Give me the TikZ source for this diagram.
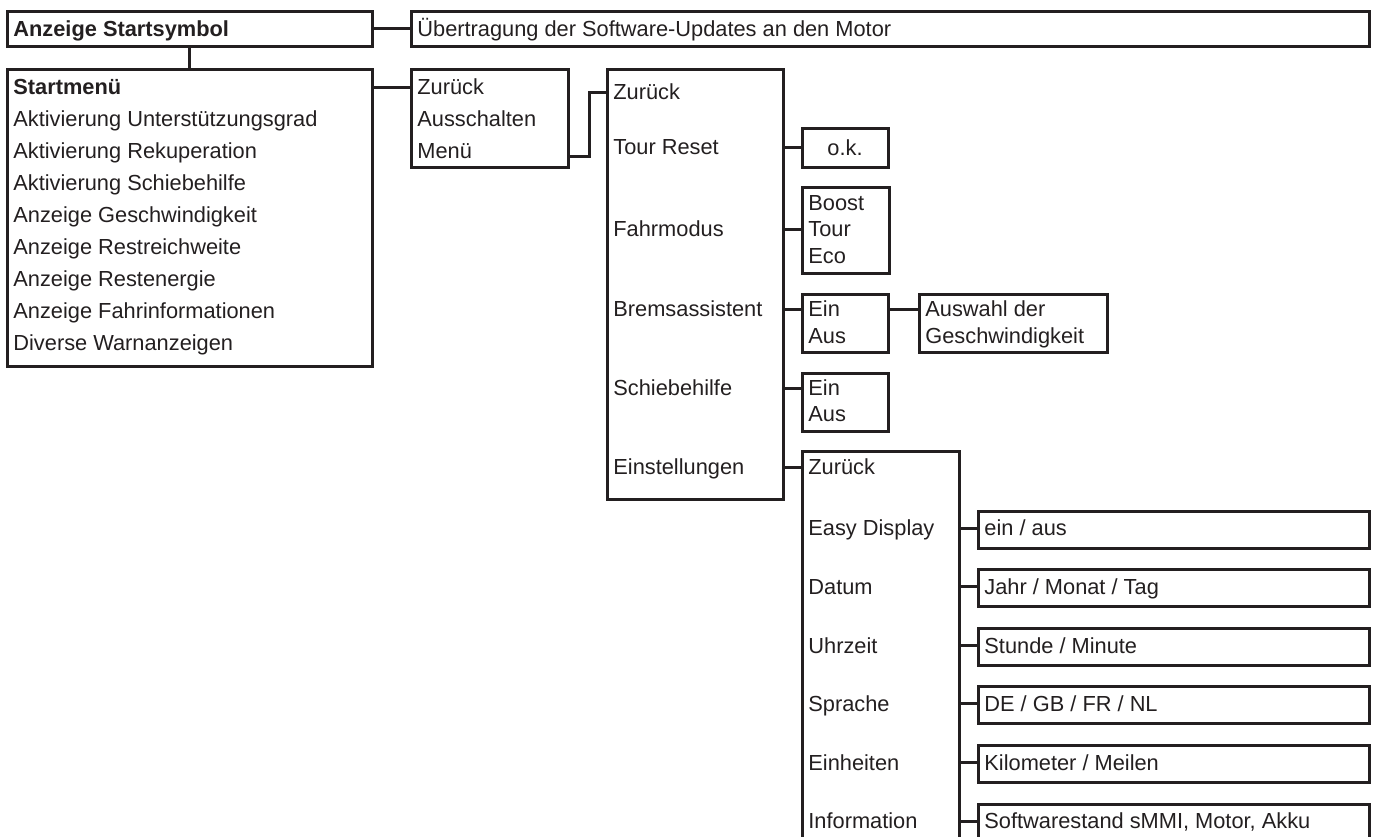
\documentclass[tikz,border=0pt]{standalone}
\usepackage{fontspec}
\setmainfont{Liberation Sans}
\usepackage{tikz}
\usetikzlibrary{fit}
\definecolor{ink}{RGB}{35,31,32}

\begin{document}
\begin{tikzpicture}[x=0.5pt,y=-0.5pt,font=\fontsize{10.9}{13}\selectfont]
  \tikzset{box/.style = {draw=ink,line width=1.5pt,inner sep=0pt}}
  \tikzset{txt/.style = {anchor=west,inner sep=0pt,text=ink,text height=7.8pt,text depth=0pt}}
  \tikzset{link/.style = {draw=ink,line width=1.5pt}}

  \useasboundingbox (0,0) rectangle (1375,836);
  \clip (0,0) rectangle (1375,836);

	\node[box,fit={(7,11) (372,46)}] (startsym) {};
	\node[box,fit={(411,11) (1369,46)}] (update) {};
	\node[box,fit={(7,69) (372,366)}] (startmenu) {};
	\node[box,fit={(411,69) (568,167)}] (quick) {};
	\node[box,fit={(607,69) (783,499)}] (menu) {};
	\node[box,fit={(802,128) (888,167)}] (ok) {};
	\node[box,fit={(802,187) (889,273)}] (mode) {};
	\node[box,fit={(802,294) (888,352)}] (brake) {};
	\node[box,fit={(919,294) (1107,352)}] (speed) {};
	\node[box,fit={(802,373) (888,431)}] (push) {};
	\node[box,fit={(802,451) (959,900)}] (setup) {};
	\foreach \i in {1,...,6}
	  \node[box,fit={(978,{452.4+58.6*\i}) (1369,{489.4+58.6*\i})}] (val\i) {};

	\node[txt] (a1) at (13,28.5) {\textbf{Anzeige Startsymbol}};
	\node[txt] (u1) at (417,28.5) {Übertragung der Software-Updates an den Motor};
	\foreach \t [count=\i] in {\textbf{Startmenü}, Aktivierung Unterstützungsgrad, Aktivierung Rekuperation, Aktivierung Schiebehilfe, Anzeige Geschwindigkeit, Anzeige Restreichweite, Anzeige Restenergie, Anzeige Fahrinformationen, Diverse Warnanzeigen}
	  \node[txt] (sm\i) at (13,{55+32*\i}) {\t};
	\foreach \t [count=\i] in {Zurück, Ausschalten, Menü}
	  \node[txt] (q\i) at (417,{55+32*\i}) {\t};
	\foreach \t/\y [count=\i] in {Zurück/92, Tour Reset/147, Fahrmodus/229, Bremsassistent/309, Schiebehilfe/388, Einstellungen/467}
	  \node[txt] (m\i) at (613,\y) {\t};
	\node[txt,anchor=center] (okt) at (ok.center) {o.k.};
	\foreach \t [count=\i] in {Boost, Tour, Eco}
	  \node[txt] (mode\i) at (808,{176+26.5*\i}) {\t};
	\node[txt] (brake1) at (808,309) {Ein};
	\node[txt] (brake2) at (808,336) {Aus};
	\node[txt] (speed1) at (925,309) {Auswahl der};
	\node[txt] (speed2) at (925,336) {Geschwindigkeit};
	\node[txt] (push1) at (808,388) {Ein};
	\node[txt] (push2) at (808,414) {Aus};
	\node[txt] (s0) at (808,467) {Zurück};
	\foreach \t [count=\i] in {Easy Display, Datum, Uhrzeit, Sprache, Einheiten, Information}
	  \node[txt] (s\i) at (808,{469.4+58.6*\i}) {\t};
	\foreach \t [count=\i] in {ein / aus, Jahr / Monat / Tag, Stunde / Minute, DE / GB / FR / NL, Kilometer / Meilen, {Softwarestand sMMI, Motor, Akku}}
	  \node[txt] (v\i) at (984,{469.4+58.6*\i}) {\t};

	\draw[link] (startsym) -- (update);
	\draw[link] (startsym) -- (startmenu);
	\draw[link] (startmenu.east |- q1) -- (quick.west |- q1);
	\draw[link] ([yshift=-2.5pt]quick.east |- q3) -- ++(19.5,0) |- (menu.west |- m1);
       \foreach \to/\row in {ok/m2, mode/m3, brake/m4, push/m5, setup/m6}
    \draw[link] (menu.east |- \row) -- (\to.west |- \row);
	\draw[link] (brake.east |- brake1) -- (speed.west |- brake1);
       \foreach \i in {1,...,6}
    \draw[link] (setup.east |- s\i) -- (val\i.west |- s\i);
\end{tikzpicture}
\end{document}
